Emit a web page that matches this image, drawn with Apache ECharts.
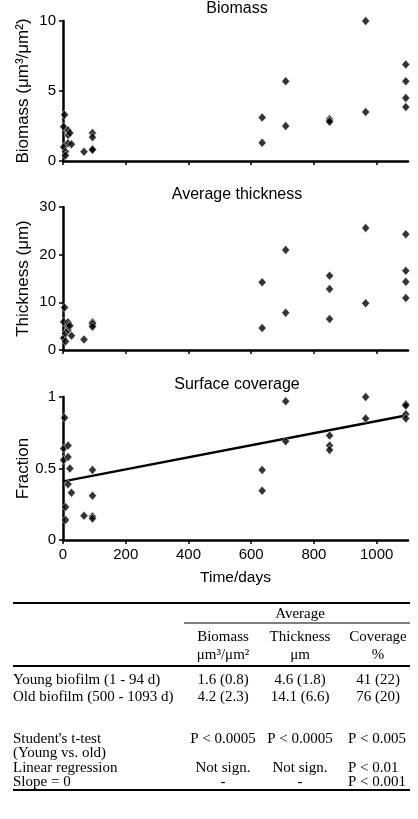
<!DOCTYPE html>
<html>
<head>
<meta charset="utf-8">
<script src="https://cdn.jsdelivr.net/npm/echarts@6/dist/echarts.min.js"></script>
<style>
html,body{margin:0;padding:0;background:#fff;}
#c{width:418px;height:819px;}
</style>
</head>
<body>
<div id="c"></div>
<script>
// ---- data ----
var youngDays = [2, 2, 5, 8, 8, 16, 16, 16, 22, 27, 67, 94, 94, 94, 94];
var oldDays = [635, 635, 710, 710, 850, 850, 850, 965, 965, 1093, 1093, 1093, 1093];

var biomassYoung = [2.45, 1.0, 3.3, 0.66, 0.4, 1.86, 2.2, 1.26, 2.0, 1.2, 0.66, 2.0, 1.7, 0.84, 0.8];
var biomassOld = [3.1, 1.3, 5.7, 2.5, 3.0, 2.9, 2.8, 10.0, 3.5, 6.9, 5.7, 4.5, 3.85];

var thickYoung = [5.9, 2.5, 8.9, 3.5, 1.8, 5.8, 4.2, 5.1, 5.1, 3.0, 2.2, 5.8, 5.2, 5.5, 4.9];
var thickOld = [14.2, 4.6, 21.0, 7.8, 15.6, 12.8, 6.5, 25.6, 9.8, 24.3, 16.6, 14.3, 10.9];

var covYoung = [0.64, 0.56, 0.855, 0.23, 0.14, 0.66, 0.58, 0.39, 0.50, 0.33, 0.17, 0.49, 0.31, 0.165, 0.15];
var covOld = [0.49, 0.345, 0.97, 0.69, 0.73, 0.66, 0.63, 1.0, 0.85, 0.95, 0.94, 0.88, 0.85];

var regDays = [1, 1093];
var regFraction = [0.41, 0.87];

var xTicks = [0, 200, 400, 600, 800, 1000];
var panelTitles = ['Biomass', 'Average thickness', 'Surface coverage'];
var yNames = ['Biomass (\u03bcm\u00b3/\u03bcm\u00b2)', 'Thickness (\u03bcm)', 'Fraction'];

var tableHeader = ['Biomass', 'Thickness', 'Coverage'];
var tableUnits = ['\u03bcm\u00b3/\u03bcm\u00b2', '\u03bcm', '%'];
var rowYoung = ['Young biofilm (1 - 94 d)', '1.6 (0.8)', '4.6 (1.8)', '41 (22)'];
var rowOld = ['Old biofilm (500 - 1093 d)', '4.2 (2.3)', '14.1 (6.6)', '76 (20)'];
var rowTtest = ["Student's t-test", 'P < 0.0005', 'P < 0.0005', 'P < 0.005'];
var rowTtest2 = ['(Young vs. old)'];
var rowReg = ['Linear regression', 'Not sign.', 'Not sign.', 'P < 0.01'];
var rowSlope = ['Slope = 0', '-', '-', 'P < 0.001'];

// ---- build ----
function pairs(xs, ys) { return xs.map(function (x, i) { return [x, ys[i]]; }); }

var chart = echarts.init(document.getElementById('c'), null, { renderer: 'canvas' });

var sans = 'Liberation Sans, Arial, sans-serif';
var serif = 'Liberation Serif, Times New Roman, serif';

var grids = [
  { left: 63, right: 10, top: 21, height: 140 },
  { left: 63, right: 10, top: 207, height: 143 },
  { left: 63, right: 10, top: 397, height: 143 }
];
var yMax = [10, 30, 1];
var yInt = [5, 10, 0.5];

var xAxes = grids.map(function (g, i) {
  return {
    type: 'value', gridIndex: i, min: 0, max: 1100,
    axisLine: { show: true, lineStyle: { color: '#000', width: 2.5 } },
    axisTick: { show: true, length: 4, lineStyle: { color: '#000', width: 1.5 }, customValues: xTicks },
    axisLabel: { show: i === 2, color: '#000', fontSize: 15, fontFamily: sans, margin: 7, customValues: xTicks,
      formatter: function (v) { return String(v); } },
    splitLine: { show: false },
    name: i === 2 ? 'Time/days' : '',
    nameLocation: 'middle', nameGap: 30, nameMoveOverlap: false,
    nameTextStyle: { color: '#000', fontSize: 15.5, fontFamily: sans }
  };
});
var yAxes = grids.map(function (g, i) {
  return {
    type: 'value', gridIndex: i, min: 0, max: yMax[i], interval: yInt[i],
    axisLine: { show: true, lineStyle: { color: '#000', width: 2.5 } },
    axisTick: { show: true, length: 4, lineStyle: { color: '#000', width: 1.5 } },
    axisLabel: { color: '#000', fontSize: 15, fontFamily: sans, margin: 7 },
    splitLine: { show: false },
    name: yNames[i], nameLocation: 'middle', nameRotate: 90, nameGap: 31, nameMoveOverlap: false,
    nameTextStyle: { color: '#000', fontSize: 17, fontFamily: sans }
  };
});

function scatter(i, xs, ys) {
  return {
    type: 'scatter', xAxisIndex: i, yAxisIndex: i, data: pairs(xs, ys),
    symbol: 'diamond', symbolSize: [8, 9],
    itemStyle: { color: '#000', borderColor: '#fff', borderWidth: 0.6 },
    silent: true
  };
}

var series = [
  scatter(0, youngDays, biomassYoung), scatter(0, oldDays, biomassOld),
  scatter(1, youngDays, thickYoung), scatter(1, oldDays, thickOld),
  {
    type: 'line', xAxisIndex: 2, yAxisIndex: 2, data: pairs(regDays, regFraction),
    showSymbol: false, lineStyle: { color: '#000', width: 2.5 }, silent: true, z: 1
  },
  scatter(2, youngDays, covYoung), scatter(2, oldDays, covOld)
];

// ---- graphics: titles + table ----
var gfx = [];
var titleY = [9, 195, 385];
panelTitles.forEach(function (t, i) {
  gfx.push({ type: 'text', x: 237, y: titleY[i],
    style: { text: t, fill: '#000', font: '16px ' + sans, textAlign: 'center', textVerticalAlign: 'middle' } });
});
function hline(x1, x2, y, w) {
  gfx.push({ type: 'line', shape: { x1: x1, y1: y, x2: x2, y2: y }, style: { stroke: '#000', lineWidth: w } });
}
hline(13, 410, 603, 2);
hline(184, 410, 623, 1.2);
hline(13, 410, 666, 2);
hline(13, 410, 790, 2);

var colX = [223, 300, 378];
function txt(t, x, y, align) {
  gfx.push({ type: 'text', x: x, y: y,
    style: { text: t, fill: '#000', font: '15px ' + serif, textAlign: align || 'center', textVerticalAlign: 'middle' } });
}
txt('Average', 300, 614);
tableHeader.forEach(function (t, i) { txt(t, colX[i], 637); });
tableUnits.forEach(function (t, i) { txt(t, colX[i], 655); });

function row(r, y, lastLeft) {
  txt(r[0], 13, y, 'left');
  for (var k = 1; k < r.length; k++) {
    if (k === 3 && lastLeft) txt(r[k], 348, y, 'left');
    else txt(r[k], colX[k - 1], y);
  }
}
row(rowYoung, 680, false);
row(rowOld, 697, false);
row(rowTtest, 739, true);
row(rowTtest2, 753, false);
row(rowReg, 768, true);
row(rowSlope, 782, true);

chart.setOption({
  animation: false,
  backgroundColor: '#fff',
  grid: grids,
  xAxis: xAxes,
  yAxis: yAxes,
  series: series,
  graphic: gfx
});
</script>
</body>
</html>
